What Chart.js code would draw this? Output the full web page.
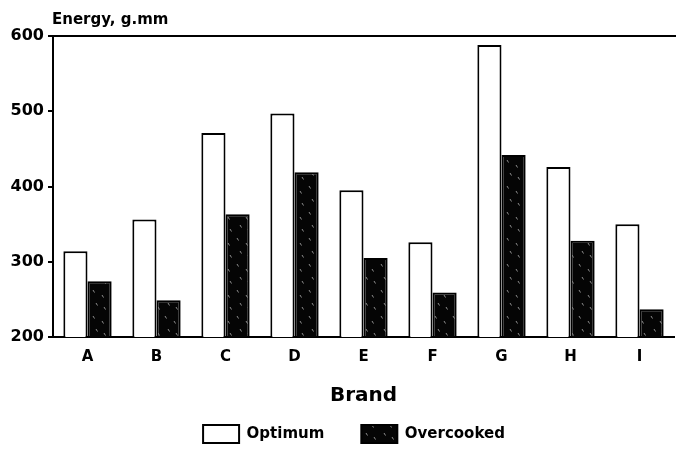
<!DOCTYPE html>
<html lang="en">
  <head>
    <meta charset="utf-8" />
    <title>Energy by Brand</title>
    <style>
      * {
        margin: 0;
        padding: 0;
      }
      body {
        background: #fff;
      }
      .chartBox {
        width: 676px;
        height: 457px;
      }
    </style>
  </head>
  <body>
    <div class="chartBox">
      <canvas id="myChart"></canvas>
    </div>

    <script src="https://cdn.jsdelivr.net/npm/chart.js@4.4.0/dist/chart.umd.min.js"></script>

    <script>
      // data block
      const brands = ["A", "B", "C", "D", "E", "F", "G", "H", "I"];
      const optimum = [314, 356, 471, 497, 395, 326, 588, 426, 350];
      const overcooked = [274, 249, 363, 419, 305, 259, 442, 328, 237];
      const yTicks = [200, 300, 400, 500, 600];

      const FONT = "'DejaVu Sans', sans-serif";

      // mostly black fill with a few light flecks, like the printed hatch
      function speckle() {
        const c = document.createElement("canvas");
        c.width = 18;
        c.height = 26;
        const g = c.getContext("2d");
        g.fillStyle = "#050505";
        g.fillRect(0, 0, 18, 26);
        g.strokeStyle = "rgba(255,255,255,0.55)";
        g.lineWidth = 1;
        const marks = [[3, 4], [12, 9], [6, 17], [14, 21]];
        marks.forEach(([x, y]) => {
          g.beginPath();
          g.moveTo(x, y);
          g.lineTo(x + 1.5, y + 2.5);
          g.stroke();
        });
        return g.createPattern(c, "repeat");
      }
      const darkFill = speckle();

      // top frame line + axis title, and nudge the legend right a bit
      const frame = {
        id: "frame",
        afterLayout(chart) {
          chart.legend.left += 17;
          chart.legend.right += 17;
        },
        afterDraw(chart) {
          const { ctx, chartArea } = chart;
          ctx.save();
          ctx.strokeStyle = "#000";
          ctx.lineWidth = 2;
          ctx.beginPath();
          ctx.moveTo(chartArea.left, chartArea.top);
          ctx.lineTo(chart.width, chartArea.top);
          ctx.stroke();
          ctx.fillStyle = "#000";
          ctx.font = "bold 15px " + FONT;
          ctx.textBaseline = "alphabetic";
          ctx.fillText("Energy, g.mm", chartArea.left - 1, 24);
          ctx.restore();
        },
      };

      const data = {
        labels: brands,
        datasets: [
          {
            label: "Optimum",
            data: optimum,
            backgroundColor: "#ffffff",
            borderColor: "#000",
            borderWidth: 2,
          },
          {
            label: "Overcooked",
            data: overcooked,
            backgroundColor: darkFill,
            borderColor: "#000",
            borderWidth: 2,
          },
        ],
      };

      const config = {
        type: "bar",
        data: data,
        options: {
          responsive: true,
          maintainAspectRatio: false,
          animation: false,
          layout: { padding: { top: 36, right: 2, left: 0, bottom: 4 } },
          datasets: {
            bar: { categoryPercentage: 0.7, barPercentage: 1.0 },
          },
          scales: {
            x: {
              grid: { display: false, drawTicks: false },
              border: { display: true, color: "#000", width: 2 },
              ticks: {
                color: "#000",
                font: { family: FONT, size: 15, weight: "bold" },
                padding: 11,
              },
              title: {
                display: true,
                text: "Brand",
                color: "#000",
                font: { family: FONT, size: 20, weight: "bold" },
                padding: { top: 7, bottom: -20 },
              },
            },
            y: {
              min: 200,
              max: 600,
              afterFit(scale) {
                scale.width = 53;
              },
              afterBuildTicks(scale) {
                scale.ticks = yTicks.map((v) => ({ value: v }));
              },
              grid: {
                drawOnChartArea: false,
                drawTicks: true,
                tickLength: 5,
                color: "#000",
                lineWidth: 2,
              },
              border: { display: true, color: "#000", width: 2 },
              ticks: {
                color: "#000",
                padding: 4,
                font: { family: FONT, size: 16, weight: "bold" },
              },
            },
          },
          plugins: {
            legend: {
              position: "bottom",
              labels: {
                color: "#000",
                boxWidth: 36,
                boxHeight: 18,
                padding: 37,
                font: { family: FONT, size: 15, weight: "bold" },
              },
            },
            tooltip: { enabled: false },
          },
        },
        plugins: [frame],
      };

      const myChart = new Chart(document.getElementById("myChart"), config);
    </script>
  </body>
</html>
